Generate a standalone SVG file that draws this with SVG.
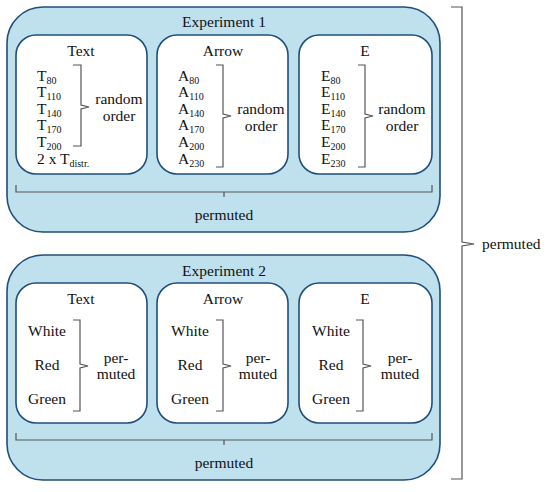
<svg xmlns="http://www.w3.org/2000/svg" width="550" height="492" viewBox="0 0 550 492" font-family="'Liberation Serif', 'DejaVu Serif', serif">
<style>
.outer{fill:#bfe1ee;stroke:#1f4e79;stroke-width:1.6}
.inner{fill:#fff;stroke:#1f4e79;stroke-width:1.6}
.br{fill:none;stroke:#555;stroke-width:1.2}
text{fill:#111;font-size:15.5px}
.t{text-anchor:middle}
.s{font-size:10px}
</style>
<rect width="550" height="492" fill="#fff"/>
<g id="exp1">
<rect class="outer" x="7" y="7" width="433" height="225" rx="36"/>
<text class="t" x="224" y="27">Experiment 1</text>
</g>
<g id="exp1-text">
<rect class="inner" x="16" y="35" width="131" height="139" rx="20"/>
<text class="t" x="81" y="56">Text</text>
<text x="37" y="81">T<tspan class="s" dy="2.5">80</tspan></text>
<text x="37" y="97">T<tspan class="s" dy="2.5">110</tspan></text>
<text x="37" y="114">T<tspan class="s" dy="2.5">140</tspan></text>
<text x="37" y="130">T<tspan class="s" dy="2.5">170</tspan></text>
<text x="37" y="147">T<tspan class="s" dy="2.5">200</tspan></text>
<text x="37" y="164">2 x T<tspan class="s" dy="2.5">distr.</tspan></text>
<text class="t" x="119" y="104">random</text>
<text class="t" x="119" y="121">order</text>
</g>
<g id="exp1-arrow">
<rect class="inner" x="157" y="35" width="131" height="139" rx="20"/>
<text class="t" x="223" y="56">Arrow</text>
<text x="178" y="81">A<tspan class="s" dy="2.5">80</tspan></text>
<text x="178" y="97">A<tspan class="s" dy="2.5">110</tspan></text>
<text x="178" y="114">A<tspan class="s" dy="2.5">140</tspan></text>
<text x="178" y="130">A<tspan class="s" dy="2.5">170</tspan></text>
<text x="178" y="147">A<tspan class="s" dy="2.5">200</tspan></text>
<text x="178" y="164">A<tspan class="s" dy="2.5">230</tspan></text>
<text class="t" x="261" y="114">random</text>
<text class="t" x="261" y="131">order</text>
</g>
<g id="exp1-e">
<rect class="inner" x="299" y="35" width="133" height="139" rx="20"/>
<text class="t" x="365" y="56">E</text>
<text x="321" y="81">E<tspan class="s" dy="2.5">80</tspan></text>
<text x="321" y="97">E<tspan class="s" dy="2.5">110</tspan></text>
<text x="321" y="114">E<tspan class="s" dy="2.5">140</tspan></text>
<text x="321" y="130">E<tspan class="s" dy="2.5">170</tspan></text>
<text x="321" y="147">E<tspan class="s" dy="2.5">200</tspan></text>
<text x="321" y="164">E<tspan class="s" dy="2.5">230</tspan></text>
<text class="t" x="402" y="114">random</text>
<text class="t" x="402" y="131">order</text>
</g>
<g id="exp1-perm"><text class="t" x="224" y="220">permuted</text></g>
<g id="exp2">
<rect class="outer" x="7" y="255" width="433" height="225" rx="36"/>
<text class="t" x="224" y="276">Experiment 2</text>
</g>
<g id="exp2-text">
<rect class="inner" x="16" y="283" width="131" height="140" rx="20"/>
<text class="t" x="81" y="304">Text</text>
<text class="t" x="47" y="336">White</text>
<text class="t" x="47" y="370">Red</text>
<text class="t" x="47" y="404">Green</text>
<text class="t" x="116" y="363">per-</text>
<text class="t" x="116" y="379">muted</text>
</g>
<g id="exp2-arrow">
<rect class="inner" x="157" y="283" width="131" height="140" rx="20"/>
<text class="t" x="223" y="304">Arrow</text>
<text class="t" x="190" y="336">White</text>
<text class="t" x="190" y="370">Red</text>
<text class="t" x="190" y="404">Green</text>
<text class="t" x="258" y="363">per-</text>
<text class="t" x="258" y="379">muted</text>
</g>
<g id="exp2-e">
<rect class="inner" x="299" y="283" width="133" height="140" rx="20"/>
<text class="t" x="365" y="304">E</text>
<text class="t" x="331" y="336">White</text>
<text class="t" x="331" y="370">Red</text>
<text class="t" x="331" y="404">Green</text>
<text class="t" x="400" y="363">per-</text>
<text class="t" x="400" y="379">muted</text>
</g>
<g id="exp2-perm"><text class="t" x="224" y="468">permuted</text></g>
<g id="all-perm"><text x="482" y="249">permuted</text></g>
<g id="connectors">
<path class="br" d="M73 65 H81 V105 L89 107 L81 109 V146 H73"/>
<path class="br" d="M216 65 H223 V114 L231 116 L223 118 V167 H216"/>
<path class="br" d="M358 65 H365 V114 L373 116 L365 118 V167 H358"/>
<path class="br" d="M16 185 V192 H432 V185 M224 192 V197"/>
<path class="br" d="M73 320 H80 V364 L88 366 L80 368 V411 H73"/>
<path class="br" d="M216 320 H223 V364 L231 366 L223 368 V411 H216"/>
<path class="br" d="M356 320 H363 V364 L371 366 L363 368 V411 H356"/>
<path class="br" d="M16 433 V440 H432 V433 M224 440 V445"/>
<path class="br" d="M451 7 H462 V242 L474 244 L462 246 V479 H451"/>
</g>
</svg>
